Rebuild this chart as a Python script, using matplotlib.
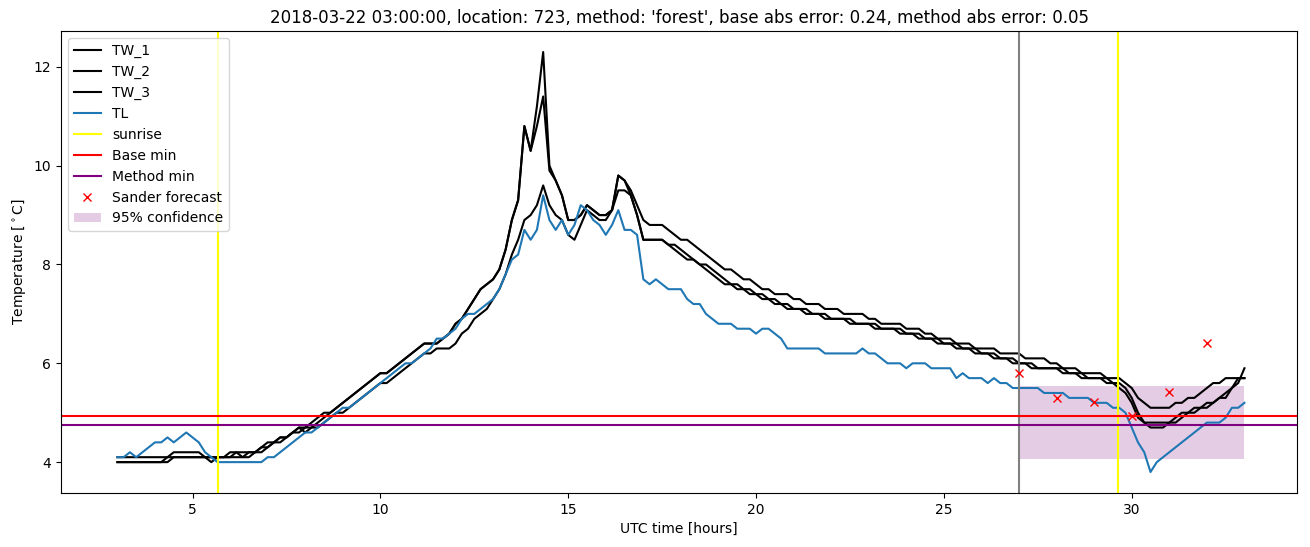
import matplotlib
matplotlib.use("Agg")
import matplotlib.pyplot as plt
import numpy as np

# 10-minute samples from 03:00 to 33:00 UTC (hours since 2018-03-22 00:00)
start_hour = 3
step_minutes = 10

# one row per hour: values at :00 :10 :20 :30 :40 :50, then the final 33:00 value
tw_1 = [
    [4.1, 4.1, 4.1, 4.1, 4.1, 4.1],  # 3
    [4.1, 4.1, 4.1, 4.2, 4.2, 4.2],  # 4
    [4.2, 4.2, 4.1, 4.0, 4.1, 4.1],  # 5
    [4.1, 4.1, 4.1, 4.2, 4.2, 4.3],  # 6
    [4.4, 4.4, 4.5, 4.5, 4.6, 4.7],  # 7
    [4.7, 4.8, 4.9, 5.0, 5.0, 5.1],  # 8
    [5.2, 5.3, 5.4, 5.5, 5.6, 5.7],  # 9
    [5.8, 5.8, 5.9, 6.0, 6.1, 6.2],  # 10
    [6.3, 6.4, 6.4, 6.4, 6.5, 6.6],  # 11
    [6.8, 6.9, 7.1, 7.3, 7.5, 7.6],  # 12
    [7.7, 7.9, 8.3, 8.9, 9.3, 10.8],  # 13
    [10.3, 11.2, 12.3, 10.0, 9.7, 9.4],  # 14
    [8.9, 8.9, 9.0, 9.2, 9.1, 9.0],  # 15
    [9.0, 9.1, 9.8, 9.7, 9.5, 9.2],  # 16
    [8.9, 8.8, 8.8, 8.8, 8.7, 8.6],  # 17
    [8.5, 8.5, 8.4, 8.3, 8.2, 8.1],  # 18
    [8.0, 7.9, 7.9, 7.8, 7.7, 7.7],  # 19
    [7.6, 7.5, 7.5, 7.4, 7.4, 7.4],  # 20
    [7.3, 7.3, 7.2, 7.2, 7.2, 7.1],  # 21
    [7.1, 7.1, 7.0, 7.0, 7.0, 7.0],  # 22
    [6.9, 6.9, 6.8, 6.8, 6.8, 6.8],  # 23
    [6.7, 6.7, 6.7, 6.6, 6.6, 6.5],  # 24
    [6.5, 6.5, 6.4, 6.4, 6.4, 6.3],  # 25
    [6.3, 6.3, 6.3, 6.2, 6.2, 6.2],  # 26
    [6.2, 6.1, 6.1, 6.1, 6.1, 6.0],  # 27
    [6.0, 5.9, 5.9, 5.9, 5.8, 5.8],  # 28
    [5.8, 5.8, 5.7, 5.7, 5.7, 5.6],  # 29
    [5.5, 5.3, 5.2, 5.1, 5.1, 5.1],  # 30
    [5.1, 5.2, 5.2, 5.3, 5.3, 5.4],  # 31
    [5.5, 5.6, 5.6, 5.7, 5.7, 5.7],  # 32
    [5.7],
]

tw_2 = [
    [4.0, 4.0, 4.0, 4.0, 4.0, 4.0],
    [4.0, 4.0, 4.1, 4.1, 4.1, 4.1],
    [4.1, 4.1, 4.1, 4.1, 4.1, 4.1],
    [4.2, 4.2, 4.2, 4.2, 4.2, 4.2],
    [4.3, 4.4, 4.4, 4.5, 4.6, 4.6],
    [4.7, 4.7, 4.8, 4.9, 5.0, 5.1],
    [5.2, 5.3, 5.4, 5.5, 5.6, 5.7],
    [5.8, 5.8, 5.9, 6.0, 6.1, 6.2],
    [6.3, 6.4, 6.4, 6.4, 6.5, 6.6],
    [6.8, 6.9, 7.1, 7.3, 7.5, 7.6],
    [7.7, 7.9, 8.3, 8.9, 9.3, 10.8],
    [10.3, 10.8, 11.4, 9.9, 9.7, 9.4],
    [8.9, 8.9, 9.0, 9.2, 9.1, 9.0],
    [9.0, 9.1, 9.8, 9.7, 9.4, 9.0],
    [8.5, 8.5, 8.5, 8.5, 8.4, 8.3],
    [8.2, 8.1, 8.1, 8.0, 7.9, 7.8],
    [7.7, 7.6, 7.6, 7.5, 7.5, 7.4],
    [7.4, 7.3, 7.3, 7.2, 7.2, 7.1],
    [7.1, 7.1, 7.0, 7.0, 7.0, 6.9],
    [6.9, 6.9, 6.9, 6.8, 6.8, 6.8],
    [6.8, 6.7, 6.7, 6.7, 6.7, 6.6],
    [6.6, 6.6, 6.5, 6.5, 6.5, 6.4],
    [6.4, 6.4, 6.3, 6.3, 6.3, 6.2],
    [6.2, 6.2, 6.1, 6.1, 6.1, 6.0],
    [6.0, 6.0, 5.9, 5.9, 5.9, 5.9],
    [5.9, 5.8, 5.8, 5.8, 5.7, 5.7],
    [5.7, 5.7, 5.6, 5.6, 5.5, 5.4],
    [5.2, 4.9, 4.8, 4.8, 4.8, 4.8],
    [4.8, 4.9, 5.0, 5.0, 5.1, 5.1],
    [5.2, 5.2, 5.3, 5.4, 5.5, 5.6],
    [5.9],
]

tw_3 = [
    [4.0, 4.0, 4.0, 4.0, 4.0, 4.0],
    [4.0, 4.0, 4.0, 4.1, 4.1, 4.1],
    [4.1, 4.1, 4.1, 4.1, 4.1, 4.1],
    [4.1, 4.2, 4.1, 4.1, 4.2, 4.3],
    [4.3, 4.4, 4.5, 4.5, 4.6, 4.7],
    [4.6, 4.7, 4.7, 4.8, 4.9, 5.0],
    [5.0, 5.1, 5.2, 5.3, 5.4, 5.5],
    [5.6, 5.6, 5.7, 5.8, 5.9, 6.0],
    [6.1, 6.2, 6.2, 6.3, 6.3, 6.3],
    [6.4, 6.6, 6.7, 6.9, 7.0, 7.1],
    [7.3, 7.5, 7.8, 8.2, 8.5, 8.9],
    [9.0, 9.2, 9.6, 9.2, 9.0, 8.9],
    [8.6, 8.5, 8.8, 9.1, 9.0, 8.9],
    [8.9, 9.1, 9.5, 9.5, 9.4, 9.0],
    [8.5, 8.5, 8.5, 8.5, 8.4, 8.4],
    [8.3, 8.2, 8.1, 8.0, 8.0, 7.9],
    [7.8, 7.7, 7.6, 7.6, 7.5, 7.5],
    [7.4, 7.4, 7.3, 7.3, 7.2, 7.2],
    [7.1, 7.1, 7.1, 7.0, 7.0, 7.0],
    [6.9, 6.9, 6.9, 6.9, 6.8, 6.8],
    [6.8, 6.8, 6.7, 6.7, 6.7, 6.7],
    [6.6, 6.6, 6.6, 6.5, 6.5, 6.5],
    [6.4, 6.4, 6.4, 6.3, 6.3, 6.3],
    [6.2, 6.2, 6.2, 6.1, 6.1, 6.1],
    [6.0, 6.0, 6.0, 5.9, 5.9, 5.9],
    [5.9, 5.9, 5.8, 5.8, 5.8, 5.7],
    [5.7, 5.7, 5.7, 5.6, 5.6, 5.5],
    [5.3, 5.0, 4.8, 4.7, 4.7, 4.7],
    [4.8, 4.8, 4.9, 5.0, 5.0, 5.1],
    [5.1, 5.2, 5.3, 5.3, 5.5, 5.7],
    [5.7],
]

tl = [
    [4.1, 4.1, 4.2, 4.1, 4.2, 4.3],
    [4.4, 4.4, 4.5, 4.4, 4.5, 4.6],
    [4.5, 4.4, 4.2, 4.1, 4.0, 4.0],
    [4.0, 4.0, 4.0, 4.0, 4.0, 4.0],
    [4.1, 4.1, 4.2, 4.3, 4.4, 4.5],
    [4.6, 4.6, 4.7, 4.8, 4.9, 5.0],
    [5.1, 5.1, 5.2, 5.3, 5.4, 5.5],
    [5.6, 5.7, 5.8, 5.9, 6.0, 6.0],
    [6.1, 6.2, 6.3, 6.5, 6.5, 6.6],
    [6.7, 6.9, 7.0, 7.0, 7.1, 7.2],
    [7.3, 7.5, 7.8, 8.1, 8.2, 8.7],
    [8.5, 8.7, 9.4, 8.9, 8.7, 8.9],
    [8.6, 8.8, 9.2, 9.1, 8.9, 8.8],
    [8.6, 8.8, 9.1, 8.7, 8.7, 8.6],
    [7.7, 7.6, 7.7, 7.6, 7.5, 7.5],
    [7.5, 7.3, 7.2, 7.2, 7.0, 6.9],
    [6.8, 6.8, 6.8, 6.7, 6.7, 6.7],
    [6.6, 6.7, 6.7, 6.6, 6.5, 6.3],
    [6.3, 6.3, 6.3, 6.3, 6.3, 6.2],
    [6.2, 6.2, 6.2, 6.2, 6.2, 6.3],
    [6.2, 6.2, 6.1, 6.0, 6.0, 6.0],
    [5.9, 6.0, 6.0, 6.0, 5.9, 5.9],
    [5.9, 5.9, 5.7, 5.8, 5.7, 5.7],
    [5.7, 5.6, 5.7, 5.6, 5.6, 5.5],
    [5.5, 5.5, 5.5, 5.5, 5.4, 5.4],
    [5.4, 5.4, 5.3, 5.3, 5.3, 5.3],
    [5.2, 5.2, 5.2, 5.1, 5.1, 5.0],
    [4.7, 4.4, 4.2, 3.8, 4.0, 4.1],
    [4.2, 4.3, 4.4, 4.5, 4.6, 4.7],
    [4.8, 4.8, 4.8, 4.9, 5.1, 5.1],
    [5.2],
]

sunrise_hours = [5.67, 29.63]
forecast_time = 27
base_min = 4.94
method_min = 4.75
sander_hours = [27, 28, 29, 30, 31, 32]
sander_temps = [5.8, 5.3, 5.21, 4.93, 5.42, 6.41]
conf_hours = [27, 33]
conf_low = 4.06
conf_high = 5.54

title = ("2018-03-22 03:00:00, location: 723, method: 'forest', "
         "base abs error: 0.24, method abs error: 0.05")


def flatten(rows):
    return np.array([v for row in rows for v in row])


series = {"TW_1": flatten(tw_1), "TW_2": flatten(tw_2), "TW_3": flatten(tw_3)}
tl_vals = flatten(tl)
hours = start_hour + np.arange(len(tl_vals)) * step_minutes / 60.0

fig = plt.figure(figsize=(13.1, 5.47), dpi=100)
ax = fig.add_axes([0.0466, 0.0987, 0.9435, 0.8446])

for name, vals in series.items():
    ax.plot(hours, vals, color="black", label=name)
ax.plot(hours, tl_vals, color="tab:blue", label="TL")

for i, sr in enumerate(sunrise_hours):
    ax.axvline(sr, color="yellow", label="sunrise" if i == 0 else None)
ax.axvline(forecast_time, color="grey")
ax.axhline(base_min, color="red", label="Base min")
ax.axhline(method_min, color="purple", label="Method min")
ax.plot(sander_hours, sander_temps, "rx", label="Sander forecast")
ax.fill_between(conf_hours, conf_low, conf_high, color="purple", alpha=0.2,
                linewidth=0, label="95% confidence")

ax.set_xlim(1.5, 34.4)
ax.set_title(title)
ax.set_xlabel("UTC time [hours]")
ax.set_ylabel(r"Temperature [$^\circ$C]")
ax.legend(loc="upper left")

fig.savefig("out.png", dpi=100)
